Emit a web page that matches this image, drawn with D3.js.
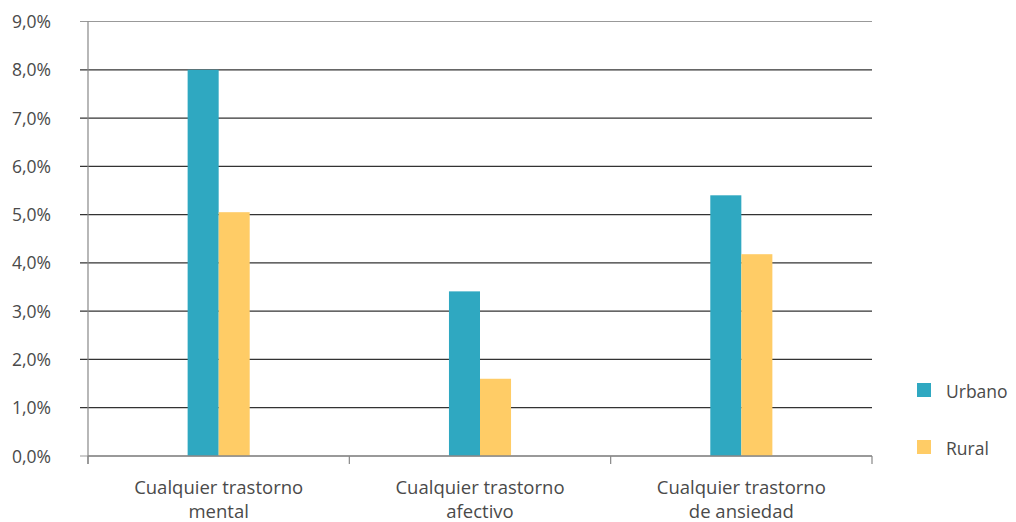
<!DOCTYPE html>
<html><head><meta charset="utf-8">
<script src="https://cdn.jsdelivr.net/npm/d3@7"></script>
<style>body{margin:0;background:#fff}svg{display:block}text{font-family:"Open Sans",Lato,sans-serif;fill:#4a4a4a}</style>
</head><body><svg id="c" width="1016" height="522"></svg>
<script>
const categories = [["Cualquier trastorno","mental"],["Cualquier trastorno","afectivo"],["Cualquier trastorno","de ansiedad"]];
const series = ["Urbano","Rural"];
const urbano = [8.0, 3.41, 5.40];
const rural = [5.05, 1.60, 4.18];
const yTicks = [0,1,2,3,4,5,6,7,8,9];
const colors = {Urbano:"#2FA8C1", Rural:"#FFCC66"};

const svg = d3.select("#c");
const L = 88, R = 872, T = 21.5, B = 456;
const x0 = d3.scaleBand().domain(d3.range(categories.length)).range([L, R]).padding(0);
const x1 = d3.scaleBand().domain(series).range([0, x0.bandwidth()]).paddingInner(0).paddingOuter(3.21);
const y = d3.scaleLinear().domain([0, 9]).range([B, T]);
const fmt = v => d3.format(".1f")(v).replace(".", ",") + "%";

// gridlines
svg.append("g").selectAll("line").data(yTicks).join("line")
  .attr("x1", L - 8).attr("x2", R).attr("y1", d => y(d)).attr("y2", d => y(d))
  .attr("stroke", d => (d === 0 || d === 9) ? "#999" : "#333").attr("stroke-width", 1.2);
svg.append("g").selectAll("text").data(yTicks).join("text")
  .attr("x", 51).attr("y", d => y(d) + 6.5).attr("text-anchor", "end")
  .style("font-size", "17.5px").text(fmt);

// bars
const data = series.map(s => ({s, vals: s === "Urbano" ? urbano : rural}));
data.forEach(ser => {
  svg.append("g").selectAll("rect").data(ser.vals).join("rect")
    .attr("x", (d, i) => x0(i) + x1(ser.s)).attr("width", x1.bandwidth())
    .attr("y", d => y(d)).attr("height", d => y(0) - y(d))
    .attr("fill", colors[ser.s]);
});

// axes lines
svg.append("line").attr("x1", L).attr("x2", L).attr("y1", T).attr("y2", B + 8).attr("stroke", "#888").attr("stroke-width", 1.2);
svg.append("line").attr("x1", L).attr("x2", R).attr("y1", B).attr("y2", B).attr("stroke", "#888").attr("stroke-width", 1.5);
const xt = d3.range(categories.length + 1).map(i => i < categories.length ? x0(i) : R);
svg.append("g").selectAll("line").data(xt).join("line")
  .attr("x1", d => d).attr("x2", d => d).attr("y1", B).attr("y2", B + 8).attr("stroke", "#888").attr("stroke-width", 1.2);

// category labels
categories.forEach((c, i) => {
  const t = svg.append("text").attr("text-anchor", "middle").style("font-size", "18.5px")
    .attr("x", x0(i) + x0.bandwidth() / 2).attr("y", 494);
  c.forEach((line, j) => t.append("tspan").attr("x", x0(i) + x0.bandwidth() / 2).attr("dy", j ? 24 : 0).text(line));
});

// legend
const leg = svg.append("g");
series.forEach((s, i) => {
  const yy = 383 + i * 57;
  leg.append("rect").attr("x", 917).attr("y", yy).attr("width", 14).attr("height", 14).attr("fill", colors[s]);
  leg.append("text").attr("x", 946).attr("y", yy + 15).style("font-size", "17.5px").text(s);
});
</script></body></html>
